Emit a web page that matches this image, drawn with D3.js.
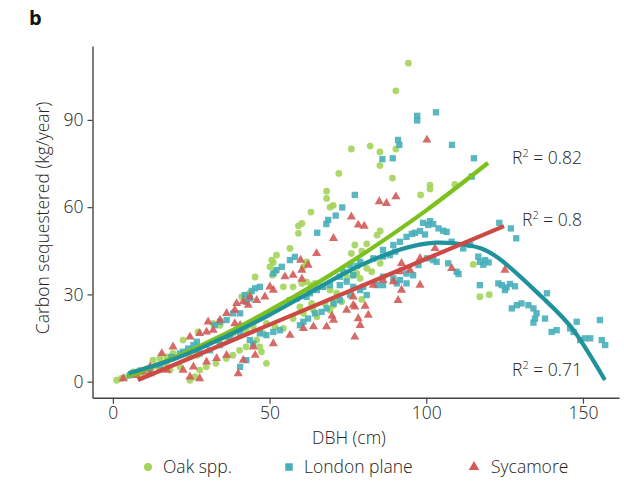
<!DOCTYPE html>
<html>
<head>
<meta charset="utf-8">
<script src="https://cdn.jsdelivr.net/npm/d3@7"></script>
<style>
  body { margin: 0; background: #fff; }
  text { font-family: "Open Sans", "DejaVu Sans", sans-serif; font-weight: 300; }
</style>
</head>
<body>
<div id="chart"></div>
<script>
// DBH (cm), carbon sequestered (kg/year)
const oakPoints = [
  [94.3,109.5],[90.3,100],[76.1,80],[82.1,81],[85.2,79],[90.3,80],[85.2,74.3],[72.1,71.6],
  [89.2,70],[68.2,65.5],[68.2,63],[98.2,64.2],[101.2,67.6],[101.2,66.2],[69.3,60],[70.3,60.6],
  [63.2,58.3],[60.3,54.4],[59.2,53.6],[59.2,51],[109.1,67.8],[85.3,51.8],[84.3,50.4],[115,40.3],
  [117.1,29.2],[120.1,29.9],[77.2,47],[81,47.4],[76.1,44.1],[79.4,44.9],[85.3,40.7],[82.6,37.8],
  [78.9,35.5],[79.4,28.3],[73,27.5],[56.5,45.8],[52.2,43.5],[50.7,41.8],[50.1,39.5],[51.2,41],
  [51.7,37.8],[50.9,36.6],[45.4,36],[61.8,41.2],[60.8,39.5],[54.4,32.6],[57.5,32.6],[60.3,33.8],
  [61.8,34.3],[63.4,33.2],[64.5,33.8],[67.1,32.6],[69.3,31.5],[71.4,30.4],[74.6,36.1],[76.7,36.6],
  [77.8,37.2],[81,39],[41.1,29.2],[43.7,30.4],[70.4,28],[49,6.3],[46.9,12],[47.4,10.3],
  [69.3,24.6],[70.4,26.3],[67.7,26.9],[63.4,26.9],[64,24.6],[65.1,22.3],[59.7,25.7],[60.8,23.5],
  [57.5,21.7],[49,20],[51.7,18.9],[54.4,18.3],[45.9,14.3],[48,16.6],[1.2,0.5],[2.7,1.1],
  [27.2,17.1],[32,20],[34.2,19.4],[22.4,14.3],[19.2,9.7],[22.4,9.7],[24.6,8.5],[26.8,9.1],
  [12.8,7.4],[15,8],[17.2,8.5],[8.6,4],[10.8,4.5],[6.5,3.4],[27.7,4],[29.8,5.1],
  [32.9,6.3],[36.2,8],[38.3,9.1],[40.4,10.8],[42.5,12],[24.6,0.5],[26.2,1.7],[15,4],
  [18.2,4],[21.4,5.1],[34.2,13.1],[36.3,15.4],[38.4,16.6],[42.6,17.7],[44.8,18.9],[4,1.5],
  [9,2.5],[12,3],[14,5.5],[17,6]
];

const planePoints = [
  [97.1,91.4],[97.1,89.8],[103.1,92.6],[91,83.1],[91.4,81.4],[108.2,81.4],[86,76.5],[89.3,76.8],
  [115.2,76.8],[77.2,64.2],[73.2,59.9],[71.1,57.1],[68.7,55.6],[68.1,54.2],[65.2,51.2],[100.6,53.9],
  [102.2,54.2],[103.9,52.7],[105.4,51.9],[106.5,51.5],[96.4,51.2],[98,51.8],[114.5,70.5],[123.3,54.6],
  [127,52.7],[128.7,49.3],[99,54.6],[101.2,55.2],[99.6,50.6],[108.1,48.1],[111.8,45.8],[114,47],
  [100.2,42.4],[102.2,41.8],[103.3,41.2],[107,40.7],[109.7,37.8],[110.3,37],[116.6,43],[117.1,41.2],
  [118.8,41.8],[119.9,41],[118.2,40.2],[117.1,33.2],[123,33.8],[124.1,33.2],[125.6,32.4],[126.7,33.6],
  [128.3,32.8],[125.1,31.5],[127.3,25.2],[128.9,26.3],[130.4,26.9],[132.6,26.3],[134.2,25.2],[135.2,23.5],
  [134.7,21.7],[137.9,21.7],[134.2,20.3],[138.5,30.4],[140,17.1],[141.6,17.7],[145.9,18.3],[148,20.6],
  [147,17.1],[149.1,14.3],[150.6,14.9],[152.3,14.9],[155.4,21.2],[156,14.3],[157.1,12.6],[91.6,48.1],
  [93.7,49.8],[95.4,50.8],[83.1,42.4],[86.2,43],[88.4,43.5],[90.1,44.7],[78.9,41.2],[75.7,40.1],
  [73.5,37.8],[72.4,36.1],[97.5,40.1],[93.7,37.2],[95.8,36.6],[84.2,33.2],[86.2,33.2],[89.5,35.5],
  [91.6,34.9],[78.9,31.5],[81,29.8],[76.7,32.6],[74.6,34.4],[72.4,33.2],[58.1,42.9],[56.5,41.8],
  [53.9,39.5],[52.2,38.4],[51.2,37.2],[46.9,32.6],[45.4,32.1],[44.3,31.2],[42.1,29.8],[86.2,45.3],
  [89.5,47],[77.8,39.8],[76.7,36.6],[67.1,32.6],[65.1,31.5],[62.9,30.4],[69.3,33.2],[56.5,28],
  [58.6,28.6],[61.8,29.2],[86.2,36.1],[90.6,33.8],[93.7,33.8],[79.9,32.6],[60.8,20.6],[59.7,19.4],
  [62.3,21.7],[64.5,23.5],[66.6,24],[68.2,25.2],[70.4,26.9],[72.4,28],[75.7,29.8],[46.9,16.6],
  [49,16],[51.2,17.1],[43.7,14.3],[44.8,13.1],[43.7,28.6],[42.6,27.5],[40.6,23.5],[38.4,23.5],
  [36.3,21.2],[34.2,20.6],[32.5,19.4],[26.8,13.7],[25.7,12.6],[24,11.4],[22.4,10.3],[21.4,9.7],
  [18.7,8.5],[6.5,2.8],[5.4,2.2],[27.7,9.7],[31,10.8],[34.2,12.6],[37.3,14.9],[40.6,16.6],
  [11.9,4.5],[15,5.7],[53.3,17.7],[40.6,5.1],[42.6,7.4]
];

const sycamorePoints = [
  [100.2,83.1],[76.1,56.7],[78.3,53.9],[80.2,53.5],[85,61.9],[87.3,61.3],[90.3,63.6],[70.4,49.3],
  [102.8,45.8],[125.1,38.4],[108.1,39],[98,33.2],[92.1,40.7],[91.6,37.8],[92.1,31.5],[91,28],
  [89.5,34.4],[76.7,29.2],[74.6,24.6],[77.2,25.7],[80.5,26],[81.5,22.9],[78.3,21.7],[78.9,19.4],
  [77.2,15.4],[98,42.4],[65,44.1],[59.9,41.8],[62.3,40.1],[60.3,38.4],[57.5,36.6],[54.9,36.1],
  [60.3,35.3],[50.1,32.6],[51.2,31.5],[48.5,29.2],[45.9,28],[43.2,26.3],[41.6,27.5],[94.8,38.4],
  [76.7,26.3],[86.2,34.9],[83.1,33.2],[68.2,18.9],[70.4,21.2],[69.9,22.6],[64,18.9],[60.8,18.3],
  [56.5,16],[51.2,13.1],[45.4,9.1],[44.8,12],[7.5,2.2],[3.3,1.1],[9.7,3.4],[11.9,5.1],
  [15.6,9.7],[19.2,12],[24.6,15.4],[27.7,16.6],[30.4,20.6],[29.9,17.1],[32,17.7],[34.2,21.2],
  [36.3,23.5],[38.9,24.6],[39.5,26.9],[43.7,29.2],[38.9,20],[40.6,19.4],[24.6,1.7],[27.7,1.1],
  [40,2.8],[41.6,7.4],[36.3,9.1],[33.1,8],[29.9,6.8],[25.7,5.1],[22.4,4],[17.2,4],[11.9,2.8]
];

// fitted curves
const oakFit = [[5,1.8],[20,8.5],[35,16],[50,24.5],[65,33.8],[80,44],[100,58.9],[119.7,75.2]];
const planeFit = [[5,2.9],[20,8],[35,15],[50,23],[65,32],[79,40],[92,45.5],[103,47.8],[113,47],
  [123,42.5],[137,29],[147,17.7],[157,0.6]];
const sycamoreFit = [[8,0.6],[50,19.6],[90,37.7],[124.8,53.5]];

const r2Labels = ["0.82", "0.8", "0.71"];
const xTicks = [0, 50, 100, 150];
const yTicks = [0, 30, 60, 90];
const seriesNames = ["Oak spp.", "London plane", "Sycamore"];

const width = 624, height = 484;
const textColor = "#222";
const oakColor = "#a3d45a", oakLine = "#7cc11e";
const planeColor = "#46afb9", planeLine = "#1f929b";
const sycColor = "#d25a58", sycLine = "#cc4944";

const svg = d3.select("#chart").append("svg")
  .attr("width", width)
  .attr("height", height);

const x = d3.scaleLinear().domain([-6.5, 161.5]).range([92.5, 619]);
const y = d3.scaleLinear().domain([-5.5, 115.4]).range([397.7, 46]);

// axes
const xAxis = svg.append("g")
  .attr("transform", `translate(0,${y.range()[0]})`)
  .call(d3.axisBottom(x).tickValues(xTicks).tickSize(6).tickSizeOuter(0).tickPadding(3));
const yAxis = svg.append("g")
  .attr("transform", `translate(${x.range()[0]},0)`)
  .call(d3.axisLeft(y).tickValues(yTicks).tickSize(5).tickSizeOuter(0).tickPadding(4));

[xAxis, yAxis].forEach(function(g) {
  g.select(".domain").attr("stroke", "#444").attr("stroke-width", 1.4);
  g.selectAll(".tick line").attr("stroke", "#444").attr("stroke-width", 1.2);
  g.selectAll(".tick text")
    .attr("fill", textColor)
    .attr("font-size", 17.5)
    .attr("font-family", "'Open Sans', sans-serif");
});

// points
svg.append("g").selectAll("circle")
  .data(oakPoints)
  .join("circle")
  .attr("cx", d => x(d[0]))
  .attr("cy", d => y(d[1]))
  .attr("r", 3.4)
  .attr("fill", oakColor)
  .attr("fill-opacity", 0.9);

const square = d3.symbol().type(d3.symbolSquare).size(40);
svg.append("g").selectAll("path")
  .data(planePoints)
  .join("path")
  .attr("d", square)
  .attr("transform", d => `translate(${x(d[0])},${y(d[1])})`)
  .attr("fill", planeColor)
  .attr("fill-opacity", 0.9);

const triangle = d3.symbol().type(d3.symbolTriangle).size(36);
svg.append("g").selectAll("path")
  .data(sycamorePoints)
  .join("path")
  .attr("d", triangle)
  .attr("transform", d => `translate(${x(d[0])},${y(d[1])})`)
  .attr("fill", sycColor)
  .attr("fill-opacity", 0.9);

// fit lines
const line = d3.line()
  .x(d => x(d[0]))
  .y(d => y(d[1]))
  .curve(d3.curveNatural);

[[oakFit, oakLine], [planeFit, planeLine], [sycamoreFit, sycLine]].forEach(function(f) {
  svg.append("path")
    .datum(f[0])
    .attr("d", line)
    .attr("fill", "none")
    .attr("stroke", f[1])
    .attr("stroke-width", 4.2)
    .attr("stroke-linecap", "butt");
});

// R2 labels
const r2Y = [164, 226, 376];
r2Labels.forEach(function(v, i) {
  const t = svg.append("text")
    .attr("x", 582)
    .attr("y", r2Y[i])
    .attr("text-anchor", "end")
    .attr("font-size", 17.5)
    .attr("fill", textColor);
  t.append("tspan").text("R");
  t.append("tspan").attr("font-size", 11).attr("dy", -7).text("2");
  t.append("tspan").attr("dy", 7).text(" = " + v);
});

// axis titles
svg.append("text")
  .attr("x", 349)
  .attr("y", 444)
  .attr("text-anchor", "middle")
  .attr("font-size", 17.5)
  .attr("fill", textColor)
  .text("DBH (cm)");

svg.append("text")
  .attr("transform", "translate(49,218) rotate(-90)")
  .attr("text-anchor", "middle")
  .attr("font-size", 17.5)
  .attr("fill", textColor)
  .text("Carbon sequestered (kg/year)");

svg.append("text")
  .attr("x", 29)
  .attr("y", 25)
  .attr("font-size", 20)
  .style("font-weight", 700)
  .attr("fill", "#111")
  .text("b");

// legend
const legendY = 467;
const legend = svg.append("g");
legend.append("circle").attr("cx", 148).attr("cy", legendY).attr("r", 4).attr("fill", oakColor);
legend.append("path")
  .attr("d", d3.symbol().type(d3.symbolSquare).size(56)())
  .attr("transform", `translate(289,${legendY})`)
  .attr("fill", planeColor);
legend.append("path")
  .attr("d", d3.symbol().type(d3.symbolTriangle).size(48)())
  .attr("transform", `translate(474,${legendY})`)
  .attr("fill", sycColor);

const legendX = [163, 304, 491];
seriesNames.forEach(function(n, i) {
  legend.append("text")
    .attr("x", legendX[i])
    .attr("y", legendY + 6)
    .attr("font-size", 17.5)
    .attr("fill", textColor)
    .text(n);
});
</script>
</body>
</html>
